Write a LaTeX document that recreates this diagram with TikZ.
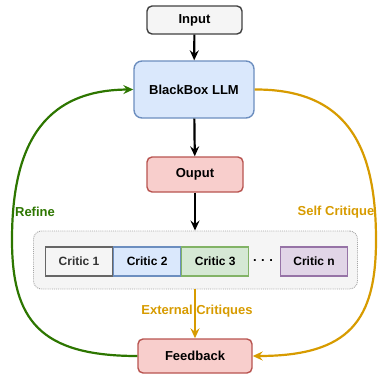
\documentclass[tikz,border=0pt]{standalone}
\usepackage{fontspec}
\setmainfont{Liberation Sans}
\usetikzlibrary{arrows.meta}
\definecolor{grayfill}{HTML}{F5F5F5}
\definecolor{graydraw}{HTML}{666666}
\definecolor{bluefill}{HTML}{DAE8FC}
\definecolor{bluedraw}{HTML}{6C8EBF}
\definecolor{redfill}{HTML}{F8CECC}
\definecolor{reddraw}{HTML}{B85450}
\definecolor{greenfill}{HTML}{D5E8D4}
\definecolor{greendraw}{HTML}{82B366}
\definecolor{purplefill}{HTML}{E1D5E7}
\definecolor{purpledraw}{HTML}{9673A6}
\definecolor{darkgreen}{HTML}{2D7600}
\definecolor{orange}{HTML}{D79B00}
\begin{document}
\begin{tikzpicture}[x=1pt,y=-1pt,
  box/.style={draw, rounded corners=5pt, line width=1.4pt, font=\fontsize{13}{15}\selectfont\bfseries, inner sep=0pt},
  critic/.style={draw, line width=1.1pt, minimum width=67pt, minimum height=29pt, font=\fontsize{12}{14}\selectfont\bfseries, inner sep=0pt, anchor=west},
  arr/.style={line width=2.2pt, -{Stealth[length=10pt,width=9pt,inset=3.5pt]}},
  lbl/.style={font=\fontsize{13}{15}\selectfont\bfseries}]
\useasboundingbox (0,0) rectangle (378,375);
\node[box, fill=grayfill, draw=black!75, minimum width=95pt, minimum height=28pt] (input) at (194.5,20) {Input};
\node[box, fill=bluefill, draw=bluedraw, minimum width=120pt, minimum height=57pt, rounded corners=8pt] (llm) at (194,89.5) {BlackBox LLM};
\node[box, fill=redfill, draw=reddraw, minimum width=96pt, minimum height=35pt] (out) at (195,174.5) {Ouput};
\node[draw=gray!70, densely dotted, fill=grayfill, rounded corners=8pt, minimum width=324pt, minimum height=58pt, line width=0.9pt] (cont) at (195.5,260) {};
\node[critic, fill=grayfill, draw=graydraw, text=black!80] (c1) at (45,261.5) {Critic 1};
\node[critic, fill=bluefill, draw=bluedraw] (c2) at (c1.east) {Critic 2};
\node[critic, fill=greenfill, draw=greendraw] (c3) at (c2.east) {Critic 3};
\node[font=\fontsize{13}{15}\selectfont\bfseries] (dots) at (263,261) {.\hspace{4.5pt}.\hspace{4.5pt}.};
\node[critic, fill=purplefill, draw=purpledraw] (cn) at (280,261.5) {Critic n};
\node[box, fill=redfill, draw=reddraw, minimum width=114pt, minimum height=34pt] (fb) at (195,356) {Feedback};
\draw[arr] (input) -- (llm);
\draw[arr] (llm) -- (out);
\draw[arr] (out) -- (cont.north -| out);
\draw[arr, draw=orange] (cont.south -| fb) -- (fb.north);
\node[lbl, text=orange] (ext) at (197,311) {External Critiques};
\draw[arr, draw=darkgreen] (fb.west) .. controls (40,356) and (12,320) .. (12,240)
  .. controls (12,150) and (40,90) .. (llm.west);
\draw[arr, draw=orange] (llm.east) .. controls (350,89) and (376,150) .. (376,240)
  .. controls (376,320) and (350,356) .. (fb.east);
\node[lbl, text=darkgreen] (refine) at (35,212) {Refine};
\node[lbl, text=orange] (self) at (336,212) {Self Critique};
\end{tikzpicture}
\end{document}
